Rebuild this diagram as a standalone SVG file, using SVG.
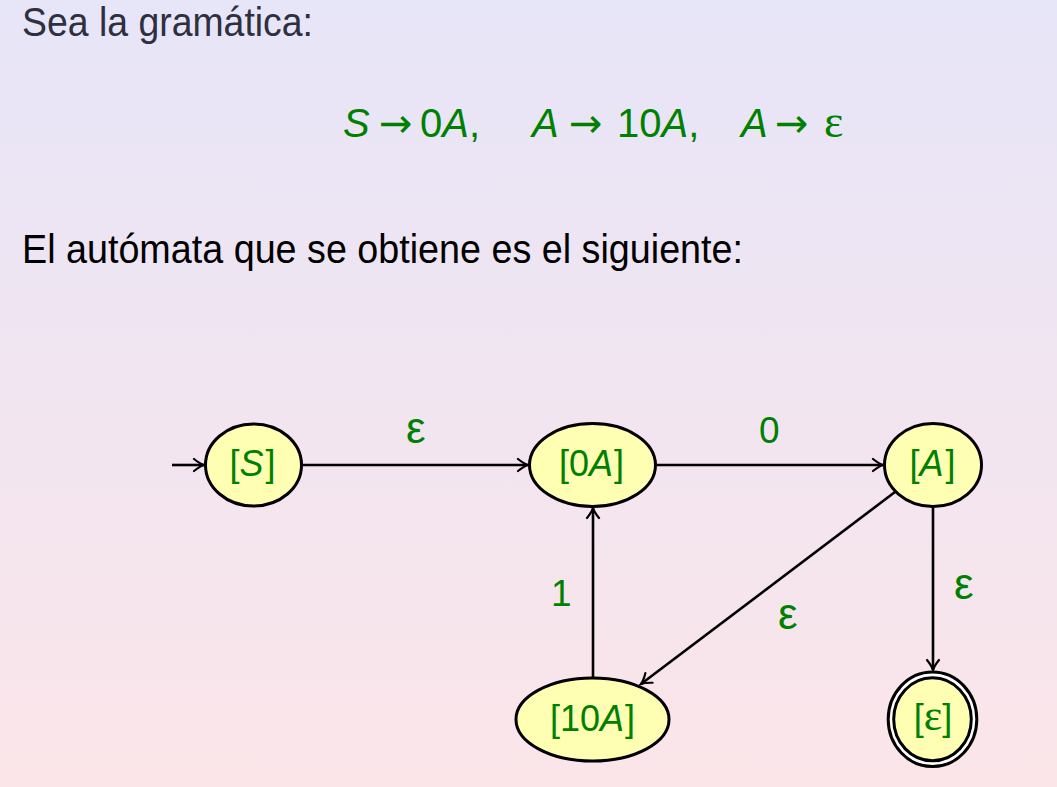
<svg xmlns="http://www.w3.org/2000/svg" width="1057" height="787" viewBox="0 0 1057 787">
<defs>
<linearGradient id="bg" x1="0" y1="0" x2="0" y2="1">
<stop offset="0" stop-color="#e7e5f8"/>
<stop offset="1" stop-color="#fbe5e9"/>
</linearGradient>
<marker id="arr" markerUnits="userSpaceOnUse" markerWidth="16" markerHeight="16" viewBox="-13 -8 16 16" refX="0" refY="0" orient="auto">
<path d="M-10,-6 Q-4,-1.2 0,0 Q-4,1.2 -10,6" fill="none" stroke="#000" stroke-width="2.2" stroke-linecap="round"/>
</marker>
</defs>
<style>
.txt{font-family:"Liberation Sans",Arial,sans-serif;font-size:40px}
.math{font-family:"Liberation Sans",Arial,sans-serif;font-size:40px;fill:#008000}
.it{font-style:italic}
.eps{font-family:"Liberation Serif","Times New Roman",serif}
.ar{font-family:"DejaVu Sans",sans-serif}
.node{fill:#ffffb4;stroke:#000;stroke-width:3}
.lbl{font-family:"Liberation Sans",Arial,sans-serif;font-size:36px;fill:#008000;text-anchor:middle}
.elbl{font-family:"Liberation Sans",Arial,sans-serif;font-size:37px;fill:#008000}
.elbl.eps{font-size:44px}
.edge{stroke:#000;stroke-width:2.6;fill:none;marker-end:url(#arr)}
</style>
<rect x="0" y="0" width="1057" height="787" fill="url(#bg)"/>
<text class="txt" x="22" y="36" fill="#2e3040" textLength="291" lengthAdjust="spacingAndGlyphs">Sea la gramática:</text>
<text class="math" y="137"><tspan class="it" x="343">S</tspan><tspan class="ar" x="379">→</tspan><tspan x="420">0</tspan><tspan class="it">A</tspan><tspan>,</tspan><tspan class="it" x="532">A</tspan><tspan class="ar" x="569">→</tspan><tspan x="617">10</tspan><tspan class="it">A</tspan><tspan>,</tspan><tspan class="it" x="741">A</tspan><tspan class="ar" x="775">→</tspan><tspan class="eps" x="824" style="font-size:46px">ε</tspan></text>
<text class="txt" x="22" y="263" fill="#000" textLength="721" lengthAdjust="spacingAndGlyphs">El autómata que se obtiene es el siguiente:</text>
<g id="connectors">
<line class="edge" x1="172" y1="465" x2="204" y2="465"/>
<line class="edge" x1="302" y1="465" x2="528" y2="465"/>
<line class="edge" x1="656" y1="465" x2="883" y2="465"/>
<line class="edge" x1="593" y1="677" x2="593" y2="508"/>
<line class="edge" x1="895" y1="492" x2="641" y2="684"/>
<line class="edge" x1="933" y1="507" x2="933" y2="670"/>
<text class="elbl eps" x="406" y="443">ε</text>
<text class="elbl" x="759" y="443">0</text>
<text class="elbl" x="551" y="606">1</text>
<text class="elbl eps" x="778" y="629">ε</text>
<text class="elbl eps" x="954" y="599">ε</text>
</g>
<g id="node-S">
<ellipse class="node" cx="253.5" cy="465" rx="48" ry="41"/>
<text class="lbl" x="252.5" y="476">[<tspan class="it">S</tspan><tspan dx="2">]</tspan></text>
</g>
<g id="node-0A">
<ellipse class="node" cx="592.5" cy="465" rx="63" ry="41.5"/>
<text class="lbl" x="591.5" y="476">[0<tspan class="it">A</tspan><tspan dx="1">]</tspan></text>
</g>
<g id="node-A">
<ellipse class="node" cx="933" cy="465" rx="48.5" ry="41.5"/>
<text class="lbl" x="932.5" y="476">[<tspan class="it">A</tspan><tspan dx="2">]</tspan></text>
</g>
<g id="node-10A">
<ellipse class="node" cx="592.5" cy="719.5" rx="76.5" ry="41.5"/>
<text class="lbl" x="592.5" y="731">[10<tspan class="it">A</tspan><tspan dx="1">]</tspan></text>
</g>
<g id="node-eps">
<ellipse cx="932.5" cy="719.3" rx="44.3" ry="47.3" fill="#fff" stroke="#000" stroke-width="3"/>
<ellipse class="node" cx="932.5" cy="719.3" rx="38.8" ry="41.5"/>
<text class="lbl" x="933" y="730">[<tspan class="eps" style="font-size:44px">ε</tspan>]</text>
</g>
</svg>
